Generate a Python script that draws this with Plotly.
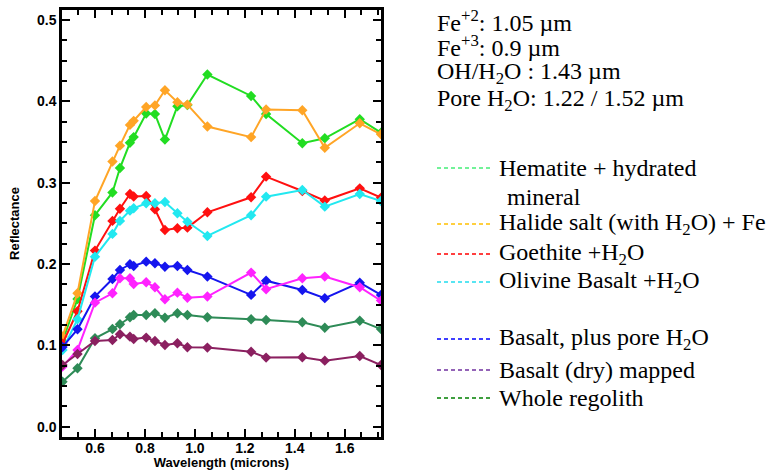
import plotly.graph_objects as go

wavelength = [0.47, 0.53, 0.60, 0.67, 0.70, 0.74, 0.755, 0.805, 0.84, 0.88, 0.93, 0.97,
              1.05, 1.225, 1.285, 1.43, 1.52, 1.66, 1.745]

hematite = [0.105, 0.157, 0.260, 0.288, 0.318, 0.349, 0.356, 0.385, 0.3845, 0.353, 0.394, 0.3955,
            0.433, 0.4066, 0.3845, 0.3485, 0.3546, 0.378, 0.3615]
halide = [0.111, 0.164, 0.2775, 0.326, 0.3455, 0.371, 0.376, 0.393, 0.395, 0.4136, 0.399, 0.396,
          0.369, 0.356, 0.390, 0.389, 0.343, 0.373, 0.3595]
goethite = [0.102, 0.142, 0.2165, 0.253, 0.268, 0.286, 0.283, 0.2837, 0.2673, 0.2419, 0.244, 0.2447,
            0.2636, 0.282, 0.3074, 0.2898, 0.278, 0.293, 0.2816]
olivine = [0.0943, 0.132, 0.209, 0.237, 0.253, 0.2656, 0.2685, 0.2747, 0.2747, 0.2763, 0.2624, 0.252,
           0.2345, 0.260, 0.2828, 0.291, 0.2705, 0.2861, 0.2775]
basalt_pore = [0.098, 0.1197, 0.160, 0.1816, 0.1927, 0.1997, 0.1976, 0.2029, 0.2009, 0.1967, 0.1976,
               0.1927, 0.1845, 0.162, 0.1795, 0.168, 0.158, 0.177, 0.162]
magenta_unit = [0.0738, 0.0943, 0.1525, 0.164, 0.1825, 0.1825, 0.1755, 0.1775, 0.1714, 0.1566, 0.1648,
                0.1586, 0.160, 0.1894, 0.169, 0.1825, 0.1845, 0.1714, 0.155]
regolith = [0.0553, 0.0718, 0.1087, 0.120, 0.1259, 0.1345, 0.1373, 0.1373, 0.1394, 0.134, 0.1394,
            0.1373, 0.1345, 0.132, 0.1312, 0.1283, 0.1217, 0.1303, 0.120]
basalt_dry = [0.0758, 0.0894, 0.1054, 0.1066, 0.1136, 0.1107, 0.1078, 0.1095, 0.1054, 0.1005, 0.1025,
              0.0976, 0.0972, 0.0922, 0.0849, 0.0853, 0.0812, 0.0869, 0.0758]

series = [hematite, halide, goethite, olivine, basalt_pore, magenta_unit, regolith, basalt_dry]
series_colors = ["#22DD22", "#FFA526", "#FF1010", "#22E8F0", "#1515EE", "#FF22FF", "#2E8B57", "#8B2060"]

band_notes = ["Fe<sup>+2</sup>: 1.05 µm", "Fe<sup>+3</sup>: 0.9 µm", "OH/H<sub>2</sub>O : 1.43 µm",
              "Pore H<sub>2</sub>O: 1.22 / 1.52 µm"]
legend_labels = ["Hematite + hydrated", "Halide salt (with H<sub>2</sub>O) + Fe",
                 "Goethite +H<sub>2</sub>O", "Olivine Basalt +H<sub>2</sub>O",
                 "Basalt, plus pore H<sub>2</sub>O", "Basalt (dry) mapped", "Whole regolith"]
legend_extra = "mineral"
legend_colors = ["#44EE77", "#FFC000", "#FF0000", "#22DDEE", "#0000FF", "#7030A0", "#008000"]

W, H = 781, 470
L, R, T, B = 62, 381, 10, 437

def px(x):
    return (x - L) / (R - L)

def py(y):
    return (B - y) / (B - T)

fig = go.Figure()
for vals, col in zip(series, series_colors):
    fig.add_trace(go.Scatter(x=wavelength, y=vals, mode="lines+markers",
                             line=dict(color=col, width=2),
                             marker=dict(symbol="diamond", size=8, color=col),
                             cliponaxis=True, showlegend=False))

axis_common = dict(showline=True, linecolor="black", linewidth=2.5, mirror="allticks",
                   ticks="inside", ticklen=8, tickwidth=2, tickcolor="black",
                   showgrid=False, zeroline=False, automargin=False,
                   tickfont=dict(family="Liberation Sans", size=14, color="black", weight="bold"))

fig.update_xaxes(range=[0.468, 1.745], tick0=0.6, dtick=0.2, tickformat=".1f",
                 ticklabelstandoff=-4,
                 minor=dict(ticks="inside", ticklen=5, tickwidth=1.5, tickcolor="black",
                            tick0=0.6, dtick=0.2 / 3),
                 title=dict(text="Wavelength (microns)", standoff=0,
                            font=dict(family="Liberation Sans", size=13, color="black", weight="bold")),
                 **axis_common)
fig.update_yaxes(range=[-0.0127, 0.5123], tick0=0, dtick=0.1, tickformat=".1f",
                 minor=dict(ticks="inside", ticklen=5, tickwidth=1.5, tickcolor="black",
                            tick0=0, dtick=0.025),
                 title=dict(text="Reflectance", standoff=15,
                            font=dict(family="Liberation Sans", size=13, color="black", weight="bold")),
                 **axis_common)

serif = dict(family="Liberation Serif", size=24, color="black")
note_y = [21, 46, 73, 100]
for txt, yy in zip(band_notes, note_y):
    fig.add_annotation(xref="paper", yref="paper", x=px(435), y=py(yy), text=txt,
                       showarrow=False, xanchor="left", yanchor="middle", align="left", font=serif)

leg_y = [168, 224, 254, 282, 339, 370, 398]
for txt, col, yy in zip(legend_labels, legend_colors, leg_y):
    fig.add_shape(type="line", xref="paper", yref="paper", x0=px(437), x1=px(492),
                  y0=py(yy), y1=py(yy), line=dict(color=col, width=1.5, dash="4px,3px"))
    fig.add_annotation(xref="paper", yref="paper", x=px(497), y=py(yy), text=txt,
                       showarrow=False, xanchor="left", yanchor="middle", align="left", font=serif)
fig.add_annotation(xref="paper", yref="paper", x=px(505), y=py(197), text=legend_extra,
                   showarrow=False, xanchor="left", yanchor="middle", align="left", font=serif)

fig.update_layout(width=W, height=H, margin=dict(l=L, r=W - R, t=T, b=H - B, pad=0),
                  paper_bgcolor="white", plot_bgcolor="white")

fig.write_html("out.html", config={"displayModeBar": False},
               post_script="document.body.style.margin='0px';document.body.style.overflow='hidden';")
